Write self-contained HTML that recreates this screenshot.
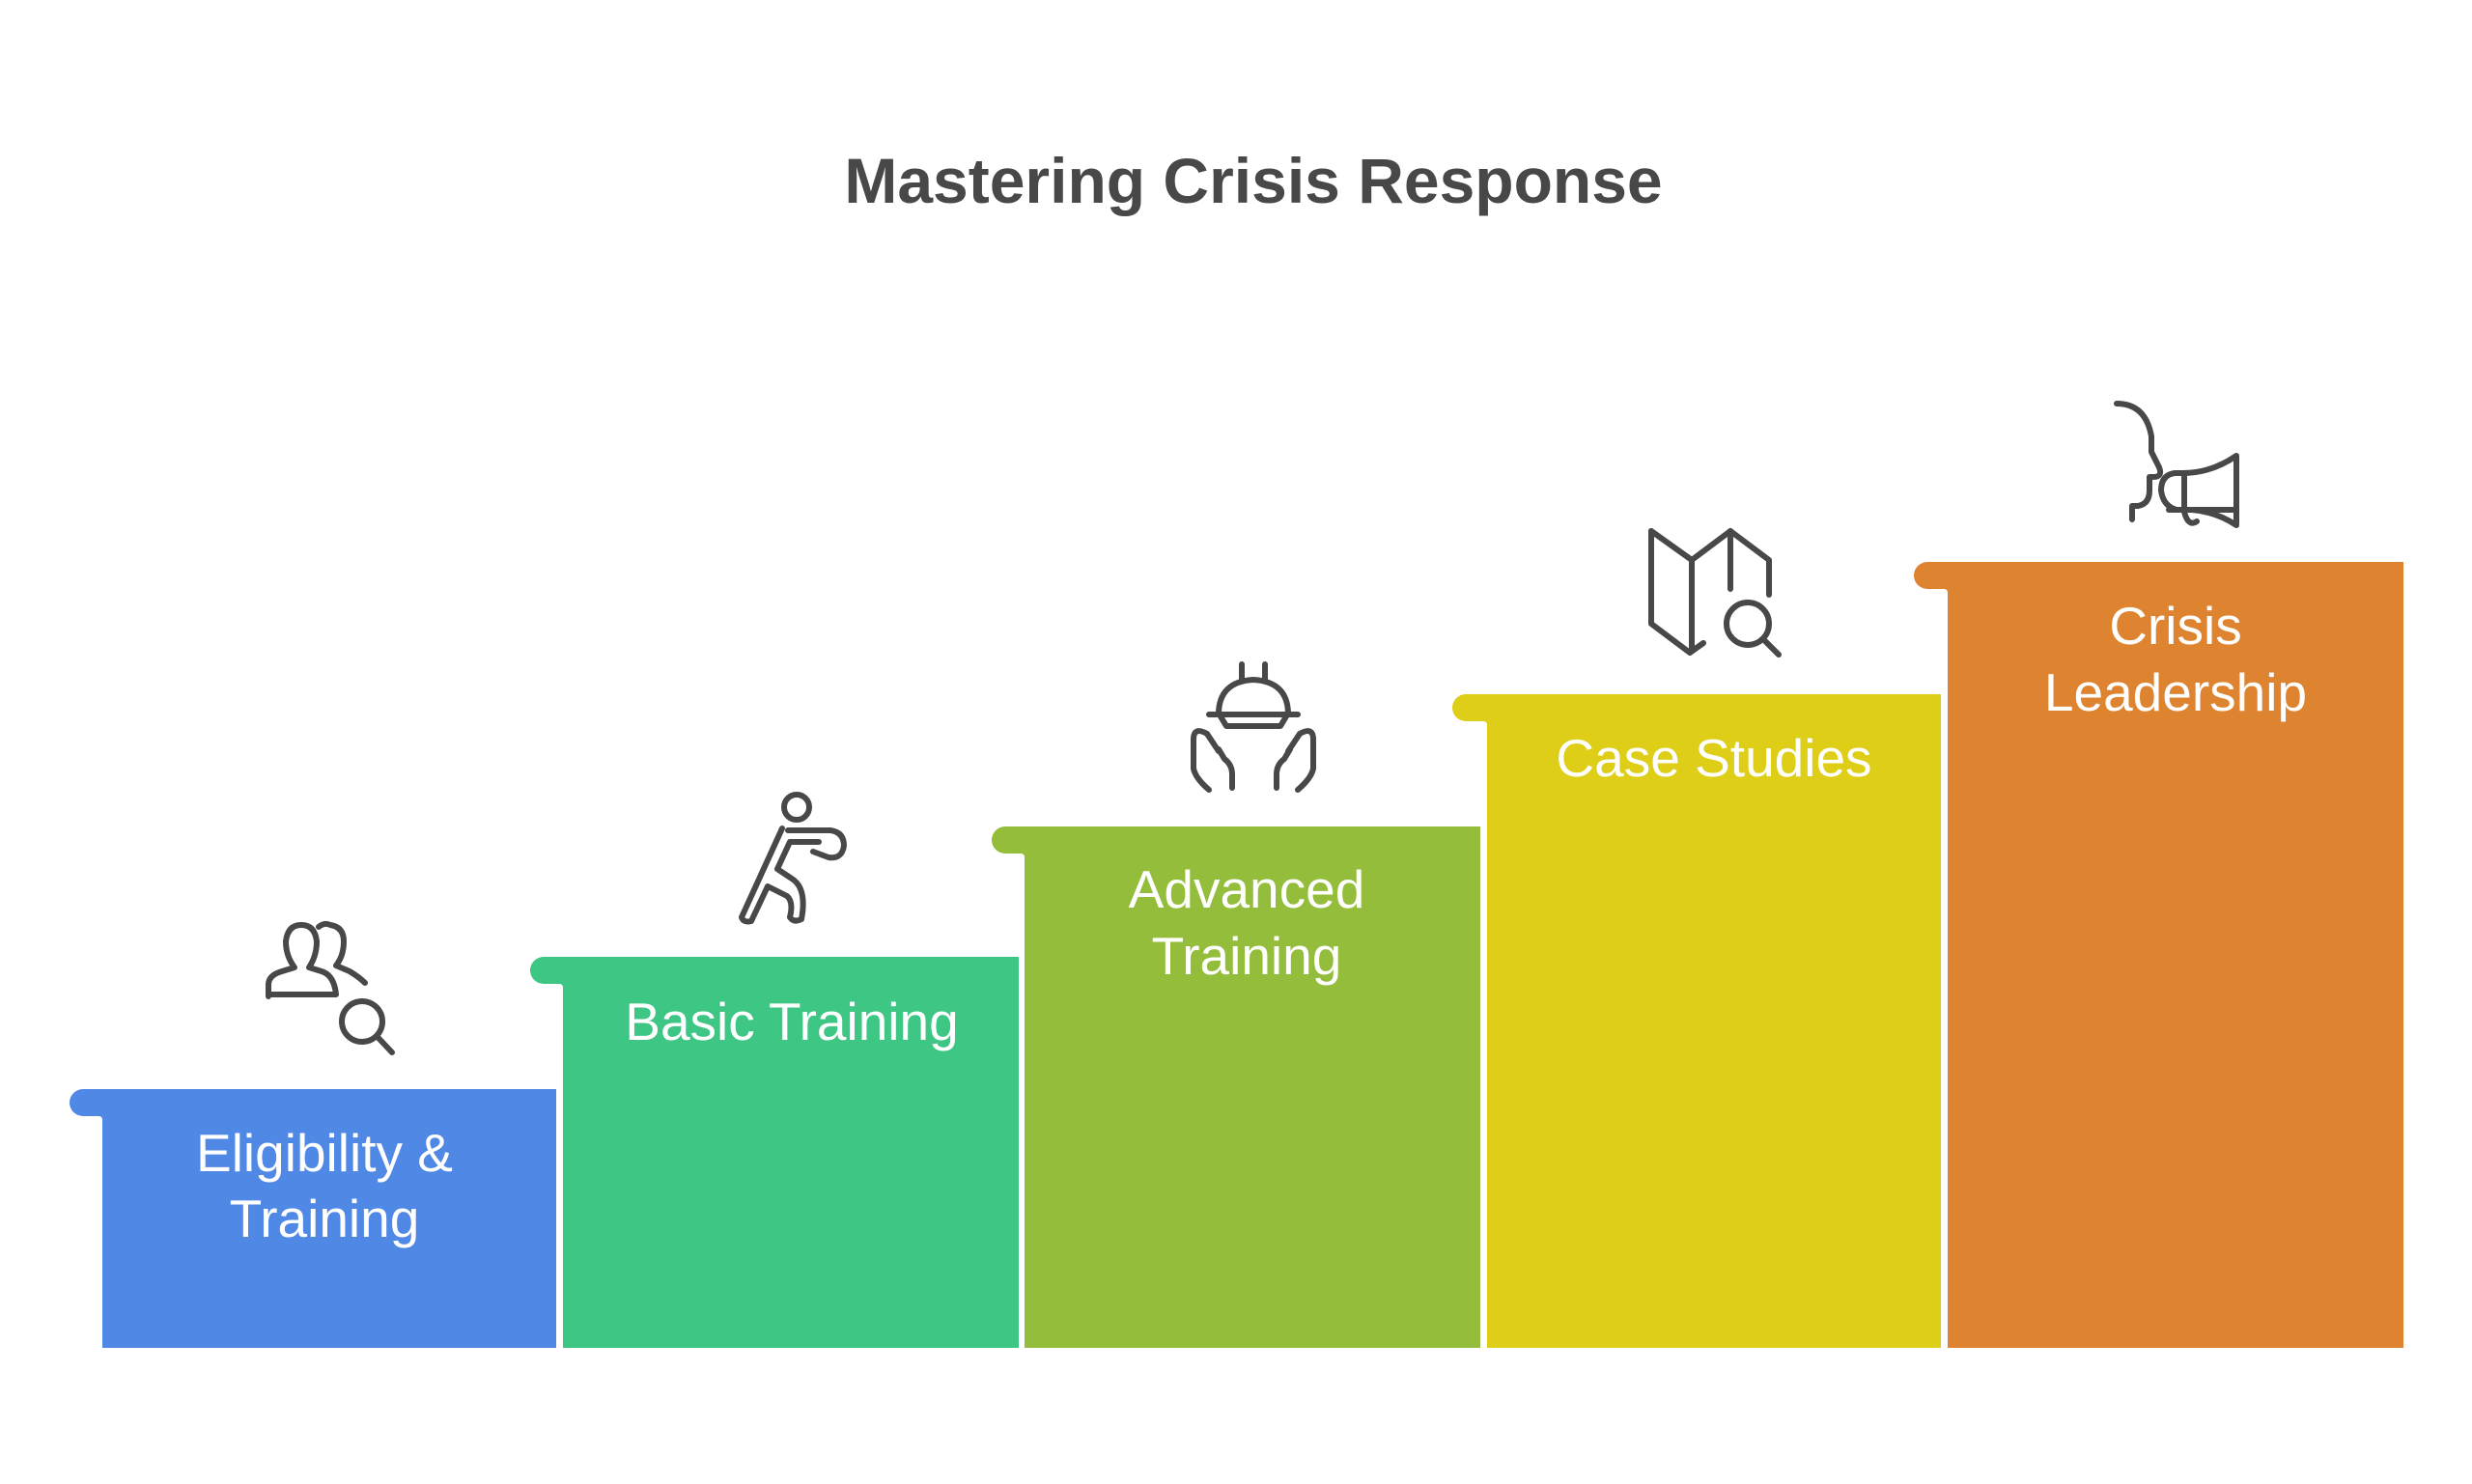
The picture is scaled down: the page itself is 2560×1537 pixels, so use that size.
<!DOCTYPE html>
<html><head><meta charset="utf-8"><style>
html,body{margin:0;padding:0;background:#fff;}
svg{display:block}
text{font-family:"Liberation Sans",sans-serif;}
</style></head><body>
<svg width="2560" height="1537" viewBox="0 0 2560 1537" xmlns="http://www.w3.org/2000/svg">
<rect width="2560" height="1537" fill="#fff"/>
<text x="1298" y="210" text-anchor="middle" font-size="66" font-weight="bold" fill="#484848">Mastering Crisis Response</text>

<!-- steps -->
<g>
<path d="M86 1128 H576 V1396 H106 V1160 Q106 1156 102 1156 H86 A14 14 0 0 1 86 1128 Z" fill="#4f88e5"/>
<path d="M563 991 H1055 V1396 H583 V1023 Q583 1019 579 1019 H563 A14 14 0 0 1 563 991 Z" fill="#3ec685"/>
<path d="M1041 856 H1533 V1396 H1061 V888 Q1061 884 1057 884 H1041 A14 14 0 0 1 1041 856 Z" fill="#93bd3b"/>
<path d="M1518 719 H2010 V1396 H1540 V751 Q1540 747 1536 747 H1518 A14 14 0 0 1 1518 719 Z" fill="#dece18"/>
<path d="M1996 582 H2489 V1396 H2017 V614 Q2017 610 2013 610 H1996 A14 14 0 0 1 1996 582 Z" fill="#de8431"/>
</g>

<g fill="#fff" font-size="55" text-anchor="middle">
<text x="336" y="1213">Eligibility &amp;</text>
<text x="336" y="1281">Training</text>
<text x="820" y="1077">Basic Training</text>
<text x="1291" y="940">Advanced</text>
<text x="1291" y="1009">Training</text>
<text x="1775" y="804">Case Studies</text>
<text x="2253" y="667">Crisis</text>
<text x="2253" y="736">Leadership</text>
</g>

<g fill="none" stroke="#484848" stroke-width="6" stroke-linecap="round" stroke-linejoin="round">
<!-- people + magnifier -->
<path d="M278 1032 V1020 Q278 1010 292 1006 L305 1002 Q296 990 296 975 Q298 958 312 958 Q326 958 328 975 Q328 990 320 1002 L333 1006 Q346 1010 348 1030 H278 Z"/>
<path d="M330 960 Q336 955 342 958 Q356 960 356 975 Q356 990 348 1000 L362 1006 Q372 1012 378 1018"/>
<circle cx="375" cy="1058" r="21"/>
<path d="M390 1073 L406 1090"/>
<!-- runner -->
<circle cx="825" cy="836" r="13"/>
<path d="M810 858 L768 950 Q770 956 778 954 L795 918 L815 928 Q822 934 818 950 Q822 956 830 952 Q836 920 820 910 L805 900 L818 872 L848 872"/>
<path d="M816 860 H860 Q874 862 874 876 Q872 890 858 888 L842 882"/>
<!-- hands + helmet -->
<path d="M1252 740 H1344"/>
<path d="M1262 740 Q1262 706 1298 704 Q1334 706 1334 740"/>
<path d="M1286 704 V688 M1310 704 V688"/>
<path d="M1264 742 L1270 752 H1326 L1332 742"/>
<path d="M1276 816 V802 Q1276 792 1268 786 L1262 776 M1250 760 Q1236 752 1236 766 V796 Q1238 806 1252 818"/>
<path d="M1250 760 L1262 778"/>
<path d="M1322 816 V802 Q1322 792 1330 786 L1336 776 M1346 760 Q1360 752 1360 766 V796 Q1358 806 1344 818"/>
<path d="M1346 760 L1334 778"/>
<!-- map + magnifier -->
<path d="M1710 550 L1752 580 L1792 550 L1832 580 V616"/>
<path d="M1710 550 V646 L1750 676 L1764 666"/>
<path d="M1752 580 V672 M1792 550 V610"/>
<circle cx="1810" cy="646" r="22"/>
<path d="M1826 662 L1842 678"/>
<!-- megaphone -->
<path d="M2192 418 Q2222 418 2228 452 L2228 468 L2236 484 Q2240 494 2230 494 L2226 494 V508 Q2226 522 2214 524 L2208 524 V538"/>
<path d="M2246 528 H2316 V472 Q2290 490 2260 490 H2252 Q2238 492 2238 508 Q2240 524 2254 528 L2270 528 Q2295 530 2316 544 V528"/>
<path d="M2262 492 V530 Q2266 546 2275 540"/>
</g>
</svg>
</body></html>
